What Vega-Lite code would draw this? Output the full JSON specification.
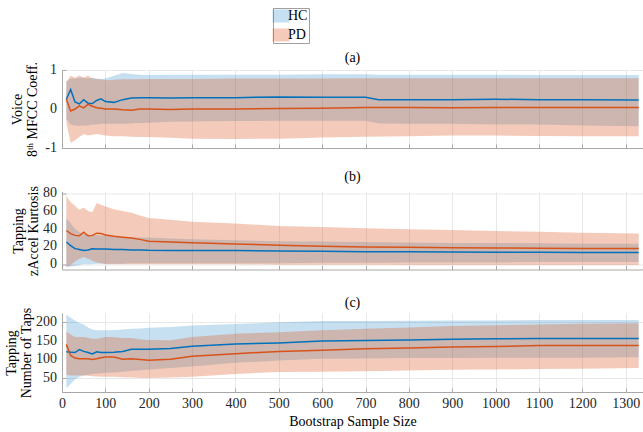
{
  "$schema": "https://vega.github.io/schema/vega-lite/v6.json",
  "padding": {"left": 4, "top": 7, "right": 0, "bottom": 5},
  "background": "white",
  "datasets": {
    "a": [
      {"g":"HC","x":10,"m":0.25,"lo":-0.25,"hi":0.70},
      {"g":"HC","x":20,"m":0.50,"lo":-0.40,"hi":0.78},
      {"g":"HC","x":30,"m":0.18,"lo":-0.42,"hi":0.78},
      {"g":"HC","x":40,"m":0.13,"lo":-0.43,"hi":0.80},
      {"g":"HC","x":50,"m":0.24,"lo":-0.42,"hi":0.80},
      {"g":"HC","x":60,"m":0.15,"lo":-0.42,"hi":0.78},
      {"g":"HC","x":70,"m":0.14,"lo":-0.40,"hi":0.80},
      {"g":"HC","x":80,"m":0.22,"lo":-0.40,"hi":0.78},
      {"g":"HC","x":90,"m":0.26,"lo":-0.38,"hi":0.77},
      {"g":"HC","x":100,"m":0.19,"lo":-0.38,"hi":0.78},
      {"g":"HC","x":120,"m":0.17,"lo":-0.38,"hi":0.85},
      {"g":"HC","x":140,"m":0.24,"lo":-0.38,"hi":0.92},
      {"g":"HC","x":160,"m":0.28,"lo":-0.37,"hi":0.90},
      {"g":"HC","x":180,"m":0.29,"lo":-0.36,"hi":0.88},
      {"g":"HC","x":200,"m":0.29,"lo":-0.35,"hi":0.87},
      {"g":"HC","x":250,"m":0.28,"lo":-0.33,"hi":0.88},
      {"g":"HC","x":300,"m":0.29,"lo":-0.32,"hi":0.88},
      {"g":"HC","x":400,"m":0.29,"lo":-0.31,"hi":0.88},
      {"g":"HC","x":500,"m":0.31,"lo":-0.30,"hi":0.88},
      {"g":"HC","x":600,"m":0.30,"lo":-0.30,"hi":0.89},
      {"g":"HC","x":700,"m":0.30,"lo":-0.30,"hi":0.89},
      {"g":"HC","x":730,"m":0.24,"lo":-0.37,"hi":0.88},
      {"g":"HC","x":800,"m":0.24,"lo":-0.38,"hi":0.88},
      {"g":"HC","x":900,"m":0.24,"lo":-0.38,"hi":0.88},
      {"g":"HC","x":1000,"m":0.25,"lo":-0.40,"hi":0.88},
      {"g":"HC","x":1100,"m":0.24,"lo":-0.40,"hi":0.87},
      {"g":"HC","x":1200,"m":0.24,"lo":-0.42,"hi":0.87},
      {"g":"HC","x":1330,"m":0.23,"lo":-0.44,"hi":0.87},
      {"g":"PD","x":10,"m":0.25,"lo":-0.35,"hi":0.70},
      {"g":"PD","x":20,"m":-0.05,"lo":-0.87,"hi":0.85},
      {"g":"PD","x":30,"m":0.00,"lo":-0.80,"hi":0.80},
      {"g":"PD","x":40,"m":0.08,"lo":-0.72,"hi":0.86},
      {"g":"PD","x":50,"m":0.03,"lo":-0.64,"hi":0.80},
      {"g":"PD","x":60,"m":0.12,"lo":-0.68,"hi":0.86},
      {"g":"PD","x":70,"m":0.07,"lo":-0.66,"hi":0.78},
      {"g":"PD","x":80,"m":0.03,"lo":-0.64,"hi":0.76},
      {"g":"PD","x":90,"m":0.02,"lo":-0.66,"hi":0.76},
      {"g":"PD","x":100,"m":0.00,"lo":-0.68,"hi":0.74},
      {"g":"PD","x":120,"m":0.00,"lo":-0.70,"hi":0.75},
      {"g":"PD","x":140,"m":-0.02,"lo":-0.70,"hi":0.76},
      {"g":"PD","x":160,"m":-0.03,"lo":-0.71,"hi":0.76},
      {"g":"PD","x":180,"m":0.00,"lo":-0.72,"hi":0.76},
      {"g":"PD","x":200,"m":0.00,"lo":-0.72,"hi":0.77},
      {"g":"PD","x":250,"m":-0.01,"lo":-0.74,"hi":0.77},
      {"g":"PD","x":300,"m":0.00,"lo":-0.76,"hi":0.77},
      {"g":"PD","x":400,"m":0.00,"lo":-0.77,"hi":0.78},
      {"g":"PD","x":500,"m":0.01,"lo":-0.76,"hi":0.78},
      {"g":"PD","x":600,"m":0.02,"lo":-0.73,"hi":0.78},
      {"g":"PD","x":700,"m":0.04,"lo":-0.71,"hi":0.79},
      {"g":"PD","x":800,"m":0.04,"lo":-0.70,"hi":0.79},
      {"g":"PD","x":900,"m":0.03,"lo":-0.68,"hi":0.79},
      {"g":"PD","x":1000,"m":0.04,"lo":-0.68,"hi":0.79},
      {"g":"PD","x":1100,"m":0.04,"lo":-0.69,"hi":0.79},
      {"g":"PD","x":1200,"m":0.04,"lo":-0.70,"hi":0.79},
      {"g":"PD","x":1330,"m":0.04,"lo":-0.70,"hi":0.79}
    ],
    "b": [
      {"g":"HC","x":10,"m":25,"lo":-3,"hi":52},
      {"g":"HC","x":20,"m":21,"lo":-3,"hi":46},
      {"g":"HC","x":30,"m":17.5,"lo":-2,"hi":40},
      {"g":"HC","x":40,"m":16.5,"lo":-1,"hi":36},
      {"g":"HC","x":50,"m":15.5,"lo":0,"hi":34},
      {"g":"HC","x":60,"m":16,"lo":0,"hi":33},
      {"g":"HC","x":70,"m":17.5,"lo":0,"hi":33},
      {"g":"HC","x":80,"m":17,"lo":0.5,"hi":33},
      {"g":"HC","x":90,"m":17,"lo":0.5,"hi":32},
      {"g":"HC","x":100,"m":17,"lo":0.5,"hi":32},
      {"g":"HC","x":120,"m":16.5,"lo":0.5,"hi":31},
      {"g":"HC","x":140,"m":16.5,"lo":0.5,"hi":31},
      {"g":"HC","x":160,"m":16,"lo":1,"hi":30},
      {"g":"HC","x":180,"m":16,"lo":1,"hi":30},
      {"g":"HC","x":200,"m":15.7,"lo":1,"hi":30},
      {"g":"HC","x":250,"m":15.5,"lo":1,"hi":29},
      {"g":"HC","x":300,"m":15.5,"lo":1,"hi":28},
      {"g":"HC","x":400,"m":15.5,"lo":1,"hi":27},
      {"g":"HC","x":500,"m":15,"lo":1,"hi":26},
      {"g":"HC","x":600,"m":14.5,"lo":1.5,"hi":25.5},
      {"g":"HC","x":700,"m":14,"lo":1.5,"hi":25},
      {"g":"HC","x":800,"m":14,"lo":2,"hi":24.5},
      {"g":"HC","x":900,"m":13.8,"lo":2,"hi":24},
      {"g":"HC","x":1000,"m":13.6,"lo":2,"hi":24},
      {"g":"HC","x":1100,"m":13.5,"lo":2.5,"hi":23.5},
      {"g":"HC","x":1200,"m":13.3,"lo":2.5,"hi":23},
      {"g":"HC","x":1330,"m":13.1,"lo":2.5,"hi":23},
      {"g":"PD","x":10,"m":38,"lo":-3,"hi":77},
      {"g":"PD","x":20,"m":34.5,"lo":-1,"hi":70},
      {"g":"PD","x":30,"m":32.5,"lo":3,"hi":66},
      {"g":"PD","x":40,"m":32,"lo":6,"hi":61},
      {"g":"PD","x":50,"m":36,"lo":8,"hi":64},
      {"g":"PD","x":60,"m":32,"lo":6,"hi":60},
      {"g":"PD","x":70,"m":32.5,"lo":4,"hi":59},
      {"g":"PD","x":80,"m":35,"lo":2,"hi":69},
      {"g":"PD","x":90,"m":34.5,"lo":1,"hi":67},
      {"g":"PD","x":100,"m":33,"lo":0,"hi":65},
      {"g":"PD","x":120,"m":31.5,"lo":0,"hi":62},
      {"g":"PD","x":140,"m":30.5,"lo":0,"hi":60},
      {"g":"PD","x":160,"m":29.5,"lo":0,"hi":58},
      {"g":"PD","x":180,"m":28,"lo":0,"hi":55},
      {"g":"PD","x":200,"m":26,"lo":0,"hi":52},
      {"g":"PD","x":250,"m":25,"lo":0,"hi":50},
      {"g":"PD","x":300,"m":24.3,"lo":0,"hi":48},
      {"g":"PD","x":400,"m":22.8,"lo":0,"hi":46},
      {"g":"PD","x":500,"m":21.3,"lo":-0.5,"hi":43},
      {"g":"PD","x":600,"m":20.2,"lo":-0.5,"hi":42},
      {"g":"PD","x":700,"m":19.5,"lo":-0.5,"hi":40.5},
      {"g":"PD","x":800,"m":19,"lo":-1,"hi":39.5},
      {"g":"PD","x":900,"m":18.5,"lo":-1,"hi":38.5},
      {"g":"PD","x":1000,"m":18.2,"lo":-1,"hi":37.5},
      {"g":"PD","x":1100,"m":18,"lo":-1,"hi":36.5},
      {"g":"PD","x":1200,"m":17.8,"lo":-1,"hi":35.5},
      {"g":"PD","x":1330,"m":17.6,"lo":-1,"hi":34.5}
    ],
    "c": [
      {"g":"HC","x":10,"m":120,"lo":22,"hi":220},
      {"g":"HC","x":20,"m":119,"lo":33,"hi":212},
      {"g":"HC","x":30,"m":118,"lo":45,"hi":205},
      {"g":"HC","x":40,"m":126,"lo":52,"hi":198},
      {"g":"HC","x":50,"m":121,"lo":56,"hi":194},
      {"g":"HC","x":60,"m":118,"lo":58,"hi":186},
      {"g":"HC","x":70,"m":114,"lo":60,"hi":180},
      {"g":"HC","x":80,"m":120,"lo":61,"hi":178},
      {"g":"HC","x":90,"m":118,"lo":62,"hi":178},
      {"g":"HC","x":100,"m":118,"lo":63,"hi":178},
      {"g":"HC","x":120,"m":119,"lo":64,"hi":179},
      {"g":"HC","x":140,"m":121,"lo":66,"hi":180},
      {"g":"HC","x":160,"m":127,"lo":68,"hi":182},
      {"g":"HC","x":180,"m":127,"lo":70,"hi":183},
      {"g":"HC","x":200,"m":127,"lo":72,"hi":185},
      {"g":"HC","x":250,"m":129,"lo":76,"hi":187},
      {"g":"HC","x":300,"m":135,"lo":80,"hi":191},
      {"g":"HC","x":400,"m":140.7,"lo":90,"hi":195},
      {"g":"HC","x":500,"m":144,"lo":96,"hi":200},
      {"g":"HC","x":600,"m":149,"lo":101,"hi":203},
      {"g":"HC","x":700,"m":150.6,"lo":102,"hi":203},
      {"g":"HC","x":800,"m":152,"lo":103,"hi":204},
      {"g":"HC","x":900,"m":154,"lo":103,"hi":204.6},
      {"g":"HC","x":1000,"m":155,"lo":104,"hi":205},
      {"g":"HC","x":1100,"m":156,"lo":104,"hi":206},
      {"g":"HC","x":1200,"m":156,"lo":104,"hi":206},
      {"g":"HC","x":1330,"m":156,"lo":105,"hi":206},
      {"g":"PD","x":10,"m":140,"lo":58,"hi":175},
      {"g":"PD","x":20,"m":110,"lo":56,"hi":167},
      {"g":"PD","x":30,"m":103,"lo":56,"hi":160},
      {"g":"PD","x":40,"m":101,"lo":56,"hi":160},
      {"g":"PD","x":50,"m":101,"lo":56,"hi":160},
      {"g":"PD","x":60,"m":101,"lo":55,"hi":158},
      {"g":"PD","x":70,"m":99,"lo":54,"hi":155},
      {"g":"PD","x":80,"m":101,"lo":53,"hi":155},
      {"g":"PD","x":90,"m":104,"lo":52,"hi":157},
      {"g":"PD","x":100,"m":106,"lo":52,"hi":160},
      {"g":"PD","x":120,"m":106,"lo":52,"hi":159},
      {"g":"PD","x":140,"m":100,"lo":51,"hi":157},
      {"g":"PD","x":160,"m":101,"lo":50,"hi":157},
      {"g":"PD","x":180,"m":99,"lo":49,"hi":154},
      {"g":"PD","x":200,"m":97,"lo":49,"hi":152},
      {"g":"PD","x":250,"m":100,"lo":50,"hi":151},
      {"g":"PD","x":300,"m":108,"lo":52,"hi":160},
      {"g":"PD","x":400,"m":114.7,"lo":60,"hi":168.7},
      {"g":"PD","x":500,"m":121,"lo":65,"hi":173},
      {"g":"PD","x":600,"m":124,"lo":66,"hi":178},
      {"g":"PD","x":700,"m":128,"lo":67,"hi":182},
      {"g":"PD","x":800,"m":130,"lo":69,"hi":186},
      {"g":"PD","x":900,"m":132.6,"lo":71,"hi":190},
      {"g":"PD","x":1000,"m":134,"lo":72,"hi":192},
      {"g":"PD","x":1100,"m":137,"lo":73,"hi":194},
      {"g":"PD","x":1200,"m":137,"lo":74,"hi":196},
      {"g":"PD","x":1330,"m":137,"lo":76,"hi":197}
    ]
  },
  "vconcat": [
    {
      "width": 581,
      "height": 78,
      "title": {"text": "(a)", "offset": -4},
      "layer": [
        {
          "data": {"name": "a"},
          "mark": {"type": "area"},
          "encoding": {
            "x": {"field": "x", "type": "quantitative", "scale": {"domain": [0, 1340], "nice": false}, "axis": {"labels": false, "title": null, "values": [0,100,200,300,400,500,600,700,800,900,1000,1100,1200,1300]}},
            "y": {"field": "hi", "type": "quantitative", "scale": {"domain": [-1, 1], "nice": false}, "axis": {"values": [-1, 0, 1], "labels": false, "titlePadding": 22, "title": ["Voice", "8ᵗʰ MFCC Coeff."]}},
            "y2": {"field": "lo"},
            "fill": {"field": "g", "type": "nominal", "scale": {"domain": ["HC", "PD"], "range": ["#0072BD", "#D95319"]},
              "legend": {"orient": "none", "legendX": 211, "legendY": -62, "title": null, "symbolType": "M-1.3,-1H1.3V1H-1.3Z", "symbolSize": 169, "labelFont": "Liberation Serif", "labelFontSize": 14, "labelColor": "#000000", "strokeColor": "#a0a0a0", "fillColor": "white", "padding": 1, "rowPadding": 5, "labelOffset": 0, "symbolStrokeWidth": 0}},
            "opacity": {"field": "g", "type": "nominal", "scale": {"domain": ["HC", "PD"], "range": [0.22, 0.3]}}
          }
        },
        {
          "data": {"name": "a"},
          "mark": {"type": "line", "strokeWidth": 1.5},
          "encoding": {
            "x": {"field": "x", "type": "quantitative"},
            "y": {"field": "m", "type": "quantitative"},
            "stroke": {"field": "g", "type": "nominal", "scale": {"domain": ["HC", "PD"], "range": ["#0072BD", "#D95319"]}, "legend": null}
          }
        },
        {
          "data": {"values": [{"v": -1, "t": "-1"}, {"v": 0, "t": "0"}, {"v": 1, "t": "1"}]},
          "mark": {"type": "text", "align": "right", "baseline": "middle", "dx": -5, "font": "Liberation Serif", "fontSize": 14, "color": "#262626"},
          "encoding": {
            "x": {"datum": 0, "type": "quantitative"},
            "y": {"field": "v", "type": "quantitative"},
            "text": {"field": "t"}
          }
        }
      ]
    },
    {
      "width": 581,
      "height": 78,
      "title": {"text": "(b)", "offset": 2},
      "layer": [
        {
          "data": {"name": "b"},
          "mark": {"type": "area"},
          "encoding": {
            "x": {"field": "x", "type": "quantitative", "scale": {"domain": [0, 1340], "nice": false}, "axis": {"labels": false, "title": null, "values": [0,100,200,300,400,500,600,700,800,900,1000,1100,1200,1300]}},
            "y": {"field": "hi", "type": "quantitative", "scale": {"domain": [-6, 82], "nice": false}, "axis": {"values": [0, 20, 40, 60, 80], "labels": false, "titlePadding": 21, "title": ["Tapping", "zAccel Kurtosis"]}},
            "y2": {"field": "lo"},
            "fill": {"field": "g", "type": "nominal", "legend": null},
            "opacity": {"field": "g", "type": "nominal", "legend": null}
          }
        },
        {
          "data": {"name": "b"},
          "mark": {"type": "line", "strokeWidth": 1.5},
          "encoding": {
            "x": {"field": "x", "type": "quantitative"},
            "y": {"field": "m", "type": "quantitative"},
            "stroke": {"field": "g", "type": "nominal", "scale": {"domain": ["HC", "PD"], "range": ["#0072BD", "#D95319"]}, "legend": null}
          }
        },
        {
          "data": {"values": [{"v": 0, "t": "0"}, {"v": 20, "t": "20"}, {"v": 40, "t": "40"}, {"v": 60, "t": "60"}, {"v": 80, "t": "80"}]},
          "mark": {"type": "text", "align": "right", "baseline": "middle", "dx": -5, "font": "Liberation Serif", "fontSize": 14, "color": "#262626"},
          "encoding": {
            "x": {"datum": 0, "type": "quantitative"},
            "y": {"field": "v", "type": "quantitative"},
            "text": {"field": "t"}
          }
        }
      ]
    },
    {
      "width": 581,
      "height": 79,
      "title": {"text": "(c)", "offset": -3},
      "layer": [
        {
          "data": {"name": "c"},
          "mark": {"type": "area"},
          "encoding": {
            "x": {"field": "x", "type": "quantitative", "scale": {"domain": [0, 1340], "nice": false}, "axis": {"title": "Bootstrap Sample Size", "values": [0,100,200,300,400,500,600,700,800,900,1000,1100,1200,1300]}},
            "y": {"field": "hi", "type": "quantitative", "scale": {"domain": [11, 225], "nice": false}, "axis": {"values": [50, 100, 150, 200], "labels": false, "titlePadding": 28, "title": ["Tapping", "Number of Taps"]}},
            "y2": {"field": "lo"},
            "fill": {"field": "g", "type": "nominal", "legend": null},
            "opacity": {"field": "g", "type": "nominal", "legend": null}
          }
        },
        {
          "data": {"name": "c"},
          "mark": {"type": "line", "strokeWidth": 1.5},
          "encoding": {
            "x": {"field": "x", "type": "quantitative"},
            "y": {"field": "m", "type": "quantitative"},
            "stroke": {"field": "g", "type": "nominal", "scale": {"domain": ["HC", "PD"], "range": ["#0072BD", "#D95319"]}, "legend": null}
          }
        },
        {
          "data": {"values": [{"v": 50, "t": "50"}, {"v": 100, "t": "100"}, {"v": 150, "t": "150"}, {"v": 200, "t": "200"}]},
          "mark": {"type": "text", "align": "right", "baseline": "middle", "dx": -5, "font": "Liberation Serif", "fontSize": 14, "color": "#262626"},
          "encoding": {
            "x": {"datum": 0, "type": "quantitative"},
            "y": {"field": "v", "type": "quantitative"},
            "text": {"field": "t"}
          }
        }
      ]
    }
  ],
  "spacing": 43.5,
  "bounds": "flush",
  "resolve": {"scale": {"stroke": "independent"}},
  "config": {
    "view": {"stroke": null},
    "font": "Liberation Serif",
    "title": {"font": "Liberation Serif", "fontSize": 14, "fontWeight": "normal", "color": "#000000", "anchor": "middle", "frame": "group"},
    "axis": {
      "domainColor": "#a8a8a8", "tickColor": "#a8a8a8", "gridColor": "#e8e8e8",
      "labelFont": "Liberation Serif", "labelFontSize": 14, "labelColor": "#262626",
      "labelExpr": "'' + datum.value",
      "titleFont": "Liberation Serif", "titleFontSize": 14, "titleFontWeight": "normal", "titleColor": "#000000",
      "tickSize": -4, "labelPadding": 8, "titleLineHeight": 15, "labelFlush": false
    }
  }
}
